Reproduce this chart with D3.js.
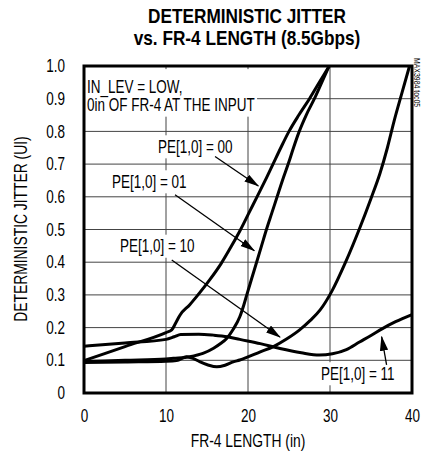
<!DOCTYPE html>
<html>
<head>
<meta charset="utf-8">
<script src="https://cdn.jsdelivr.net/npm/d3@7"></script>
<style>
body { margin: 0; background: #fff; }
svg { display: block; }
</style>
</head>
<body>
<svg id="chart"></svg>
<script>
// values (x = FR-4 length in inches, y = DJ in UI)
const xTicks = [0, 10, 20, 30, 40];
const yTicks = [0, 0.1, 0.2, 0.3, 0.4, 0.5, 0.6, 0.7, 0.8, 0.9, 1.0];
const yTickLabels = ["0", "0.1", "0.2", "0.3", "0.4", "0.5", "0.6", "0.7", "0.8", "0.9", "1.0"];

const pe00 = [[0,0.099],[5,0.142],[10,0.185],[10.7,0.193],[11.2,0.215],[11.7,0.238],[12.9,0.27],[13.9,0.3],
  [15.3,0.345],[16.7,0.395],[18,0.45],[19.1,0.5],[20.1,0.55],[21.1,0.6],[22.1,0.65],[23.05,0.7],[24,0.75],
  [25,0.8],[26.2,0.85],[27.5,0.9],[28.7,0.95],[29.9,1.0]];
const pe01 = [[0,0.096],[5,0.1],[10,0.104],[10.9,0.106],[12.9,0.111],[14.5,0.121],[15.8,0.137],[16.7,0.152],
  [17.4,0.167],[18.2,0.195],[19,0.233],[19.5,0.27],[19.85,0.3],[20.45,0.35],[21.05,0.4],[21.65,0.45],
  [22.25,0.5],[22.9,0.55],[23.55,0.6],[24.2,0.65],[24.9,0.7],[25.55,0.75],[26.25,0.8],[27.1,0.85],
  [28.1,0.9],[29,0.95],[29.9,1.0]];
const pe10 = [[0,0.093],[5,0.095],[10,0.097],[11.3,0.099],[12.5,0.111],[13.3,0.106],[14.1,0.096],[15.2,0.085],
  [16.2,0.08],[17.2,0.085],[18.2,0.095],[19,0.101],[21.5,0.126],[23.1,0.142],[24.7,0.165],[26.3,0.193],
  [27.6,0.222],[28.8,0.254],[30.2,0.31],[31.9,0.4],[33.7,0.509],[35,0.595],[36.1,0.672],[37,0.75],
  [37.8,0.83],[38.8,0.92],[39.7,1.0]];
const pe11 = [[0,0.143],[5,0.153],[10,0.164],[11,0.172],[11.8,0.179],[14,0.18],[15.8,0.177],[17.5,0.172],
  [19,0.164],[21.5,0.151],[23.9,0.136],[26.5,0.123],[28.7,0.116],[30.3,0.12],[32,0.133],[33.6,0.156],
  [35,0.176],[36.4,0.197],[38,0.218],[40,0.24]];
const series = [pe00, pe01, pe10, pe11];

// annotations, in data units
const curveNames = ["PE[1,0] = 00", "PE[1,0] = 01", "PE[1,0] = 10", "PE[1,0] = 11"];
const nameAt = [[9.02,0.734],[3.41,0.627],[4.39,0.43],[28.9,0.04]];
const arrowFrom = [[15.98,0.723],[11.1,0.606],[10.7,0.407],[36.9,0.086]];
const arrowTo = [[21.26,0.633],[20.77,0.435],[23.9,0.171],[36.3,0.172]];
const noteLines = ["IN_LEV = LOW,", "0in OF FR-4 AT THE INPUT"];
const noteAt = [0.37, 0.918];

const W = 422, H = 457;
const SX = 0.77; // horizontal squeeze, stands in for a condensed face
const font = "'Liberation Sans', Arial, sans-serif";
const margin = {left: 84, right: 10, top: 66, bottom: 64};

const x = d3.scaleLinear().domain([0, 40]).range([margin.left, W - margin.right]);
const y = d3.scaleLinear().domain([0, 1]).range([H - margin.bottom, margin.top]);

const svg = d3.select("#chart")
    .attr("width", W)
    .attr("height", H)
    .attr("viewBox", [0, 0, W, H]);

const text = (parent, px, py, s, size, anchor, rot = "", weight = "normal", sx = SX) => parent.append("text")
    .attr("transform", `translate(${px},${py}) ${rot} scale(${sx},1)`)
    .attr("text-anchor", anchor)
    .style("font", `${weight} ${size}px ${font}`)
    .style("fill", "#000")
    .text(s);

// grid
const grid = svg.append("g")
    .style("stroke", "#444")
    .style("stroke-width", 1);
grid.selectAll(".gx")
    .data(xTicks.slice(1, -1))
    .join("line")
    .attr("x1", d => x(d)).attr("x2", d => x(d))
    .attr("y1", y(0)).attr("y2", y(1));
grid.selectAll(".gy")
    .data(yTicks.slice(1, -1))
    .join("line")
    .attr("x1", x(0)).attr("x2", x(40))
    .attr("y1", d => y(d)).attr("y2", d => y(d));

// labels sitting on white boxes that hide the grid
const boxed = (px, py, lines, pad) => {
    const g = svg.append("g").attr("transform", `translate(${px},${py}) scale(${SX},1)`);
    const rect = g.append("rect").style("fill", "#fff");
    const ts = lines.map((s, i) => g.append("text")
        .attr("y", i * 18.5)
        .style("font", `17.5px ${font}`)
        .style("fill", "#000")
        .text(s));
    const bb = ts.map(t => t.node().getBBox());
    const x0 = d3.min(bb, b => b.x), x1 = d3.max(bb, b => b.x + b.width);
    const y0 = d3.min(bb, b => b.y), y1 = d3.max(bb, b => b.y + b.height);
    rect.attr("x", x0 - pad[3] / SX)
        .attr("y", y0 - pad[0])
        .attr("width", x1 - x0 + (pad[1] + pad[3]) / SX)
        .attr("height", y1 - y0 + pad[0] + pad[2]);
};

boxed(x(noteAt[0]), y(noteAt[1]), noteLines, [8, 2, 2, 4]);
curveNames.forEach((s, i) => boxed(x(nameAt[i][0]), y(nameAt[i][1]), [s], [2, 3, 2, 3]));

// curves
const line = d3.line()
    .curve(d3.curveMonotoneX)
    .x(d => x(d[0]))
    .y(d => y(d[1]));

svg.append("g")
    .selectAll("path")
    .data(series)
    .join("path")
    .attr("d", line)
    .style("fill", "none")
    .style("stroke", "#000")
    .style("stroke-width", 3)
    .style("stroke-linejoin", "round");

// arrows
svg.append("defs").append("marker")
    .attr("id", "head")
    .attr("markerUnits", "userSpaceOnUse")
    .attr("viewBox", "0 -4.5 15 9")
    .attr("refX", 14).attr("refY", 0)
    .attr("markerWidth", 15).attr("markerHeight", 9)
    .attr("orient", "auto")
    .append("path")
    .attr("d", "M0,-4.2L15,0L0,4.2Z")
    .style("fill", "#000");

svg.append("g")
    .selectAll("line")
    .data(arrowFrom)
    .join("line")
    .attr("x1", d => x(d[0])).attr("y1", d => y(d[1]))
    .attr("x2", (d, i) => x(arrowTo[i][0])).attr("y2", (d, i) => y(arrowTo[i][1]))
    .style("stroke", "#000")
    .style("stroke-width", 1.3)
    .attr("marker-end", "url(#head)");

// frame
svg.append("rect")
    .attr("x", x(0)).attr("y", y(1))
    .attr("width", x(40) - x(0)).attr("height", y(0) - y(1))
    .style("fill", "none")
    .style("stroke", "#000")
    .style("stroke-width", 3);

// axes
const yAxis = svg.append("g")
    .attr("transform", `translate(${x(0)},0)`)
    .call(d3.axisLeft(y).tickValues(yTicks).tickSize(0).tickPadding(19)
        .tickFormat((d, i) => yTickLabels[i]));
const xAxis = svg.append("g")
    .attr("transform", `translate(0,${y(0)})`)
    .call(d3.axisBottom(x).tickValues(xTicks).tickSize(0).tickPadding(17));

[yAxis, xAxis].forEach(a => {
    a.select(".domain").remove();
    a.selectAll("text")
        .attr("fill", "#000")
        .style("font", `17.5px ${font}`);
});
yAxis.selectAll("text").attr("x", -19 / SX).attr("transform", `scale(${SX},1)`);
xAxis.selectAll("text").attr("transform", `scale(${SX},1)`);

// titles
text(svg, 247, 23, "DETERMINISTIC JITTER", 21, "middle", "", "bold", 0.82);
text(svg, 247, 45, "vs. FR-4 LENGTH (8.5Gbps)", 21, "middle", "", "bold", 0.82);
text(svg, 248, 447, "FR-4 LENGTH (in)", 18, "middle");
text(svg, 27, 229, "DETERMINISTIC JITTER (UI)", 18, "middle", "rotate(-90)");
text(svg, 414, 58, "MAX3984 toc05", 9, "start", "rotate(90)");
</script>
</body>
</html>
